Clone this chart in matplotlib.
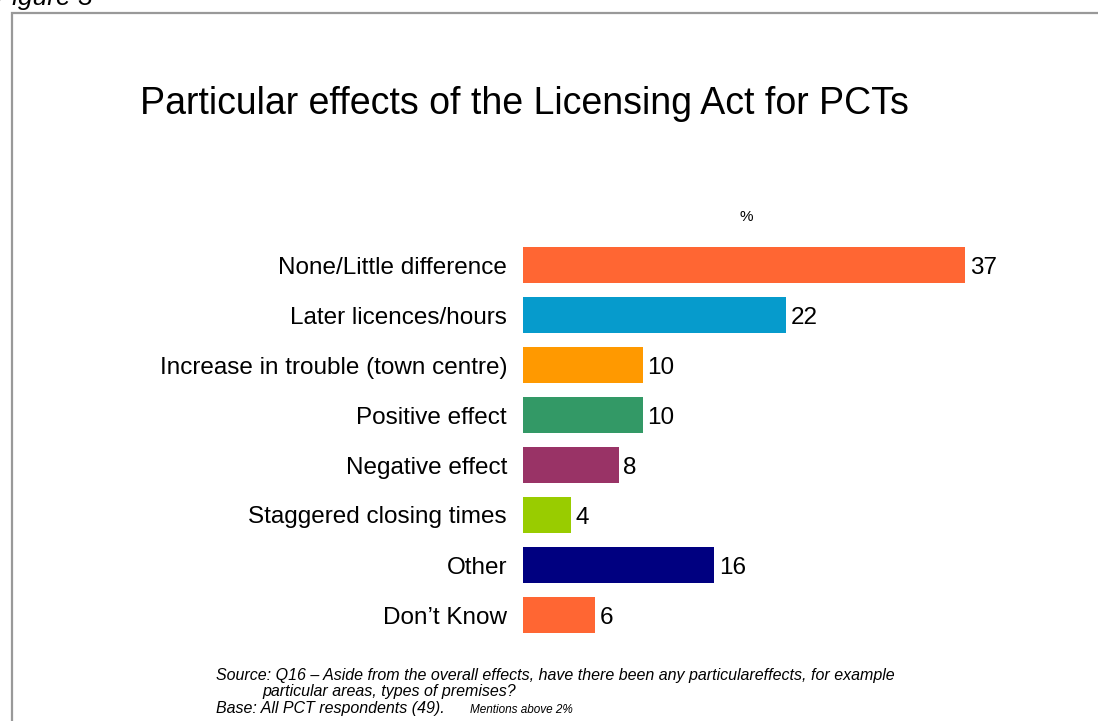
import matplotlib
matplotlib.use("Agg")
import matplotlib.pyplot as plt
from matplotlib.patches import Rectangle

plt.rcParams["font.family"] = ["Liberation Sans", "DejaVu Sans"]

categories = [
    "None/Little difference",
    "Later licences/hours",
    "Increase in trouble (town centre)",
    "Positive effect",
    "Negative effect",
    "Staggered closing times",
    "Other",
    "Don\u2019t Know",
]
values = [37, 22, 10, 10, 8, 4, 16, 6]
colors = ["#FF6633", "#069BCC", "#FF9900", "#339966", "#993366", "#99CC00", "#000080", "#FF6633"]

W, H = 1098, 721
fig = plt.figure(figsize=(W / 100, H / 100), dpi=100)

# grey frame around the slide, running off the right and bottom edges
fig.patches.append(Rectangle((12 / W, -0.05), 1.1, 1 - 13 / H + 0.05, transform=fig.transFigure,
                             fill=False, edgecolor="#999999", linewidth=1.6))
fig.text(-4 / W, 1 - 5 / H, "Figure 3", fontsize=19, style="italic", va="baseline", ha="left")

fig.text(140 / W, 1 - 104 / H, "Particular effects of the Licensing Act for PCTs",
         fontsize=27, va="center", ha="left")
fig.text(746 / W, 1 - 217 / H, "%", fontsize=11, va="center", ha="center")

# axes: x 0..40 units at ~11.95 px per unit, rows 50 px apart
left, top, bottom = 523, 240, 640
ax = fig.add_axes([left / W, 1 - bottom / H, 40 * 11.95 / W, (bottom - top) / H])
ypos = range(len(categories))
ax.barh(ypos, values, height=0.72, color=colors)
ax.set_xlim(0, 40)
ax.set_ylim(len(categories) - 0.5, -0.5)
ax.set_yticks(list(ypos))
ax.set_yticklabels(categories, fontsize=17.5)
ax.tick_params(axis="y", length=0, pad=11.5)
ax.set_xticks([])
for s in ax.spines.values():
    s.set_visible(False)
for y, v in zip(ypos, values):
    ax.text(v + 0.4, y + 0.05, str(v), fontsize=17.5, va="center", ha="left")

note = dict(fontsize=11.5, style="italic", ha="left", va="baseline")
fig.text(216 / W, 1 - 680 / H,
         "Source: Q16 \u2013 Aside from the overall effects, have there been any particulareffects, for example",
         **note)
fig.text(262 / W, 1 - 696 / H, "particular areas, types of premises?", **note)
fig.text(216 / W, 1 - 713 / H, "Base: All PCT respondents (49).", **note)
fig.text(470 / W, 1 - 713 / H, "Mentions above 2%", fontsize=8.5, style="italic", ha="left", va="baseline")

fig.savefig("out.png", dpi=100, facecolor="white")
